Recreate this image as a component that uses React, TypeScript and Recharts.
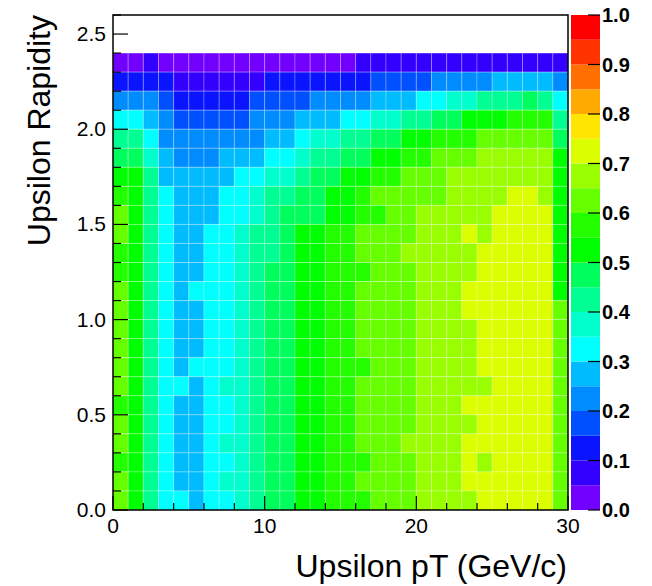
import { ScatterChart, Scatter, XAxis, YAxis, ReferenceArea } from 'recharts';

// bin edges
const ptEdges = [0, 1, 2, 3, 4, 5, 6, 7, 8, 9, 10, 11, 12, 13, 14, 15, 16, 17, 18, 19, 20, 21, 22, 23, 24, 25, 26, 27, 28, 29, 30];
const rapEdges = [0, 0.1, 0.2, 0.3, 0.4, 0.5, 0.6, 0.7, 0.8, 0.9, 1.0, 1.1, 1.2, 1.3, 1.4, 1.5, 1.6, 1.7, 1.8, 1.9, 2.0, 2.1, 2.2, 2.3, 2.4];

// axis ticks
const xTicks = [0, 2, 4, 6, 8, 10, 12, 14, 16, 18, 20, 22, 24, 26, 28, 30];
const yTicks = [0, 0.1, 0.2, 0.3, 0.4, 0.5, 0.6, 0.7, 0.8, 0.9, 1.0, 1.1, 1.2, 1.3, 1.4, 1.5, 1.6, 1.7, 1.8, 1.9, 2.0, 2.1, 2.2, 2.3, 2.4, 2.5, 2.6];
const zTicks = [0, 0.1, 0.2, 0.3, 0.4, 0.5, 0.6, 0.7, 0.8, 0.9, 1.0];

// colour contour levels (lower edge of each band)
const levels = [0, 0.05, 0.1, 0.15, 0.2, 0.25, 0.3, 0.35, 0.4, 0.45, 0.5, 0.55, 0.6, 0.65, 0.7, 0.75, 0.8, 0.85, 0.9, 0.95];

// efficiency, one row per rapidity bin from 2.3-2.4 (top) down to 0.0-0.1, 30 pT bins each
const eff = [
  [0.03, 0.03, 0.08, 0.03, 0.03, 0.03, 0.03, 0.03, 0.03, 0.03, 0.03, 0.03, 0.03, 0.03, 0.03, 0.03, 0.08, 0.08, 0.08, 0.08, 0.08, 0.08, 0.08, 0.08, 0.08, 0.08, 0.08, 0.08, 0.08, 0.08],
  [0.13, 0.13, 0.13, 0.13, 0.08, 0.08, 0.08, 0.08, 0.08, 0.08, 0.13, 0.13, 0.13, 0.13, 0.13, 0.13, 0.13, 0.18, 0.18, 0.18, 0.18, 0.22, 0.22, 0.22, 0.22, 0.28, 0.28, 0.28, 0.28, 0.22],
  [0.22, 0.22, 0.22, 0.18, 0.13, 0.13, 0.13, 0.13, 0.13, 0.18, 0.18, 0.18, 0.18, 0.22, 0.22, 0.22, 0.22, 0.28, 0.28, 0.28, 0.33, 0.33, 0.38, 0.38, 0.43, 0.43, 0.43, 0.47, 0.43, 0.33],
  [0.33, 0.33, 0.28, 0.22, 0.18, 0.18, 0.18, 0.18, 0.18, 0.22, 0.22, 0.22, 0.28, 0.28, 0.28, 0.33, 0.33, 0.38, 0.38, 0.43, 0.43, 0.47, 0.47, 0.53, 0.53, 0.53, 0.57, 0.57, 0.57, 0.43],
  [0.43, 0.43, 0.33, 0.22, 0.22, 0.22, 0.22, 0.22, 0.22, 0.22, 0.28, 0.28, 0.33, 0.38, 0.38, 0.43, 0.43, 0.47, 0.47, 0.53, 0.53, 0.57, 0.57, 0.57, 0.62, 0.62, 0.62, 0.62, 0.62, 0.47],
  [0.47, 0.47, 0.38, 0.28, 0.22, 0.22, 0.22, 0.28, 0.28, 0.28, 0.33, 0.33, 0.38, 0.43, 0.43, 0.47, 0.47, 0.53, 0.53, 0.57, 0.57, 0.62, 0.62, 0.62, 0.68, 0.68, 0.68, 0.68, 0.68, 0.53],
  [0.53, 0.53, 0.43, 0.28, 0.28, 0.28, 0.28, 0.28, 0.33, 0.33, 0.38, 0.38, 0.43, 0.47, 0.47, 0.53, 0.53, 0.57, 0.57, 0.62, 0.62, 0.62, 0.68, 0.68, 0.68, 0.68, 0.68, 0.68, 0.68, 0.53],
  [0.57, 0.53, 0.43, 0.33, 0.28, 0.28, 0.28, 0.33, 0.33, 0.38, 0.43, 0.43, 0.47, 0.47, 0.53, 0.53, 0.57, 0.62, 0.62, 0.62, 0.62, 0.62, 0.68, 0.68, 0.68, 0.68, 0.72, 0.72, 0.68, 0.53],
  [0.62, 0.53, 0.43, 0.33, 0.28, 0.28, 0.28, 0.33, 0.33, 0.38, 0.43, 0.47, 0.47, 0.47, 0.53, 0.53, 0.57, 0.57, 0.62, 0.62, 0.68, 0.68, 0.68, 0.68, 0.68, 0.72, 0.72, 0.72, 0.72, 0.53],
  [0.62, 0.53, 0.43, 0.33, 0.28, 0.28, 0.33, 0.33, 0.38, 0.43, 0.43, 0.47, 0.53, 0.53, 0.57, 0.57, 0.62, 0.62, 0.62, 0.62, 0.68, 0.68, 0.68, 0.72, 0.68, 0.72, 0.72, 0.72, 0.72, 0.53],
  [0.57, 0.53, 0.43, 0.33, 0.28, 0.28, 0.33, 0.33, 0.38, 0.43, 0.43, 0.47, 0.53, 0.53, 0.57, 0.57, 0.62, 0.62, 0.62, 0.68, 0.68, 0.68, 0.68, 0.68, 0.72, 0.72, 0.72, 0.72, 0.72, 0.53],
  [0.57, 0.53, 0.43, 0.33, 0.28, 0.28, 0.33, 0.33, 0.38, 0.43, 0.47, 0.47, 0.53, 0.53, 0.57, 0.57, 0.57, 0.62, 0.62, 0.62, 0.68, 0.68, 0.68, 0.68, 0.72, 0.72, 0.72, 0.72, 0.72, 0.53],
  [0.62, 0.53, 0.43, 0.33, 0.28, 0.33, 0.33, 0.33, 0.38, 0.43, 0.47, 0.47, 0.53, 0.53, 0.57, 0.57, 0.62, 0.62, 0.62, 0.62, 0.68, 0.68, 0.68, 0.72, 0.72, 0.72, 0.72, 0.72, 0.72, 0.53],
  [0.62, 0.53, 0.43, 0.33, 0.28, 0.28, 0.33, 0.33, 0.38, 0.43, 0.47, 0.47, 0.53, 0.53, 0.57, 0.57, 0.62, 0.62, 0.62, 0.62, 0.68, 0.68, 0.68, 0.72, 0.72, 0.72, 0.72, 0.72, 0.72, 0.62],
  [0.62, 0.53, 0.43, 0.33, 0.28, 0.28, 0.33, 0.33, 0.38, 0.43, 0.47, 0.47, 0.53, 0.53, 0.57, 0.57, 0.62, 0.62, 0.62, 0.62, 0.68, 0.68, 0.68, 0.68, 0.72, 0.72, 0.72, 0.72, 0.72, 0.62],
  [0.62, 0.53, 0.43, 0.33, 0.28, 0.28, 0.33, 0.33, 0.38, 0.43, 0.47, 0.47, 0.53, 0.53, 0.57, 0.57, 0.62, 0.62, 0.62, 0.62, 0.68, 0.68, 0.68, 0.68, 0.72, 0.72, 0.72, 0.72, 0.72, 0.62],
  [0.62, 0.53, 0.43, 0.33, 0.28, 0.33, 0.33, 0.33, 0.38, 0.43, 0.47, 0.47, 0.53, 0.53, 0.57, 0.57, 0.57, 0.62, 0.62, 0.62, 0.68, 0.68, 0.68, 0.68, 0.72, 0.72, 0.72, 0.72, 0.72, 0.62],
  [0.62, 0.53, 0.43, 0.33, 0.33, 0.28, 0.33, 0.38, 0.38, 0.43, 0.47, 0.47, 0.53, 0.53, 0.57, 0.57, 0.62, 0.62, 0.62, 0.62, 0.68, 0.68, 0.68, 0.68, 0.68, 0.72, 0.72, 0.72, 0.72, 0.62],
  [0.57, 0.53, 0.43, 0.33, 0.28, 0.28, 0.33, 0.33, 0.38, 0.43, 0.47, 0.47, 0.53, 0.53, 0.57, 0.57, 0.62, 0.62, 0.62, 0.62, 0.68, 0.68, 0.68, 0.72, 0.72, 0.72, 0.72, 0.72, 0.72, 0.62],
  [0.62, 0.53, 0.43, 0.33, 0.28, 0.28, 0.33, 0.33, 0.38, 0.43, 0.47, 0.47, 0.53, 0.53, 0.57, 0.57, 0.62, 0.62, 0.62, 0.62, 0.68, 0.68, 0.68, 0.68, 0.72, 0.72, 0.72, 0.72, 0.72, 0.62],
  [0.62, 0.53, 0.43, 0.33, 0.28, 0.28, 0.33, 0.38, 0.38, 0.43, 0.47, 0.47, 0.53, 0.53, 0.57, 0.57, 0.62, 0.62, 0.62, 0.68, 0.68, 0.68, 0.68, 0.72, 0.72, 0.72, 0.72, 0.72, 0.72, 0.62],
  [0.57, 0.53, 0.43, 0.33, 0.28, 0.28, 0.33, 0.33, 0.38, 0.43, 0.47, 0.47, 0.53, 0.53, 0.57, 0.57, 0.57, 0.62, 0.62, 0.62, 0.68, 0.68, 0.68, 0.72, 0.68, 0.72, 0.72, 0.72, 0.72, 0.62],
  [0.62, 0.53, 0.43, 0.33, 0.28, 0.28, 0.33, 0.38, 0.38, 0.43, 0.47, 0.47, 0.53, 0.53, 0.57, 0.57, 0.62, 0.62, 0.62, 0.62, 0.68, 0.68, 0.68, 0.72, 0.72, 0.72, 0.72, 0.72, 0.72, 0.62],
  [0.62, 0.53, 0.43, 0.33, 0.33, 0.28, 0.33, 0.33, 0.38, 0.43, 0.47, 0.47, 0.53, 0.53, 0.57, 0.57, 0.57, 0.62, 0.62, 0.62, 0.68, 0.68, 0.68, 0.68, 0.72, 0.72, 0.72, 0.72, 0.72, 0.62],
];

const palette = [
  '#7200ff', '#3300ff', '#0a14ff', '#0050ff', '#008cff',
  '#00bcff', '#00ffff', '#00ffcc', '#00ff92', '#00ff5c',
  '#00ff00', '#24ff00', '#66ff00', '#99ff00', '#dcff00',
  '#ffe600', '#ffaa00', '#ff7000', '#ff3300', '#ff0000',
];

const FONT = '"Liberation Sans", Arial, Helvetica, sans-serif';

const colorFor = (v: number) => {
  let k = 0;
  levels.forEach((lv, i) => {
    if (v >= lv) k = i;
  });
  return palette[k];
};

const nRap = rapEdges.length - 1;
const cells = eff.flatMap((row, r) =>
  row.map((v, c) => ({
    x1: ptEdges[c],
    x2: ptEdges[c + 1],
    y1: rapEdges[nRap - 1 - r],
    y2: rapEdges[nRap - r],
    pt: (ptEdges[c] + ptEdges[c + 1]) / 2,
    rap: (rapEdges[nRap - 1 - r] + rapEdges[nRap - r]) / 2,
    eff: v,
  }))
);

const bands = levels.map((lv, i) => ({ lo: lv, hi: levels[i + 1] ?? 1, mid: lv + 0.025 }));

const XTick = ({ x, y, payload }: any) => {
  const major = payload.value % 10 === 0;
  return (
    <g>
      <line x1={x} x2={x} y1={y} y2={y - (major ? 14 : 7)} stroke="#000" strokeWidth={1.2} />
      {major && (
        <text x={x} y={y + 23} textAnchor="middle" fontSize={21} fontFamily={FONT} fill="#000">
          {payload.value}
        </text>
      )}
    </g>
  );
};

const YTick = ({ x, y, payload }: any) => {
  const major = Math.round(payload.value * 10) % 5 === 0;
  return (
    <g>
      <line x1={x} x2={x + (major ? 15 : 8)} y1={y} y2={y} stroke="#000" strokeWidth={1.2} />
      {major && (
        <text x={x - 7} y={y + 7} textAnchor="end" fontSize={21} fontFamily={FONT} fill="#000">
          {payload.value.toFixed(1)}
        </text>
      )}
    </g>
  );
};

const ZTick = ({ x, y, payload }: any) => (
  <g>
    <line x1={x - 12} x2={x} y1={y} y2={y} stroke="#000" strokeWidth={1.2} />
    <text x={x + 2} y={y + 7} textAnchor="start" fontSize={20} fontWeight="bold" fontFamily={FONT} fill="#000">
      {payload.value.toFixed(1)}
    </text>
  </g>
);

export default function App() {
  return (
    <div style={{ position: 'absolute', left: 0, top: 0, width: 652, height: 586, background: '#fff', fontFamily: FONT }}>
      <div style={{ position: 'absolute', left: 0, top: 0 }}>
        <ScatterChart width={652} height={586} margin={{ top: 15, right: 84, bottom: 46, left: 0 }}>
          {cells.map((c, i) => (
            <ReferenceArea
              key={i}
              x1={c.x1}
              x2={c.x2}
              y1={c.y1}
              y2={c.y2}
              fill={colorFor(c.eff)}
              fillOpacity={1}
              stroke="#ffffff"
              strokeOpacity={0.25}
              strokeWidth={1}
            />
          ))}
          <Scatter data={cells} dataKey="rap" isAnimationActive={false} shape={() => <g />} />
          <ReferenceArea x1={0} x2={30} y1={0} y2={2.6} fill="none" stroke="#000" strokeWidth={1.5} />
          <XAxis
            type="number"
            dataKey="pt"
            domain={[0, 30]}
            ticks={xTicks}
            interval={0}
            allowDataOverflow
            height={30}
            tickSize={0}
            tickMargin={0}
            axisLine={false}
            tickLine={false}
            tick={<XTick />}
          />
          <YAxis
            type="number"
            dataKey="rap"
            domain={[0, 2.6]}
            ticks={yTicks}
            interval={0}
            allowDataOverflow
            width={113}
            tickSize={0}
            tickMargin={0}
            axisLine={false}
            tickLine={false}
            tick={<YTick />}
          />
        </ScatterChart>
      </div>
      <div style={{ position: 'absolute', left: 571, top: 0 }}>
        <ScatterChart width={81} height={586} margin={{ top: 15, right: 0, bottom: 76, left: 0 }}>
          {bands.map((b, i) => (
            <ReferenceArea key={i} x1={0} x2={1} y1={b.lo} y2={b.hi} fill={palette[i]} fillOpacity={1} />
          ))}
          <Scatter data={bands} dataKey="mid" isAnimationActive={false} shape={() => <g />} />
          <XAxis type="number" dataKey="lo" domain={[0, 1]} hide height={0} />
          <YAxis
            type="number"
            dataKey="mid"
            orientation="right"
            domain={[0, 1]}
            ticks={zTicks}
            interval={0}
            allowDataOverflow
            width={52}
            tickSize={0}
            tickMargin={0}
            axisLine={false}
            tickLine={false}
            tick={<ZTick />}
          />
        </ScatterChart>
      </div>
      <svg width={652} height={586} style={{ position: 'absolute', left: 0, top: 0, pointerEvents: 'none' }}>
        <text x={567} y={577} textAnchor="end" fontSize={32} fontFamily={FONT} fill="#000">
          Upsilon pT (GeV/c)
        </text>
        <text x={50} y={15} textAnchor="end" fontSize={32} fontFamily={FONT} fill="#000" transform="rotate(-90 50 15)">
          Upsilon Rapidity
        </text>
      </svg>
    </div>
  );
}
